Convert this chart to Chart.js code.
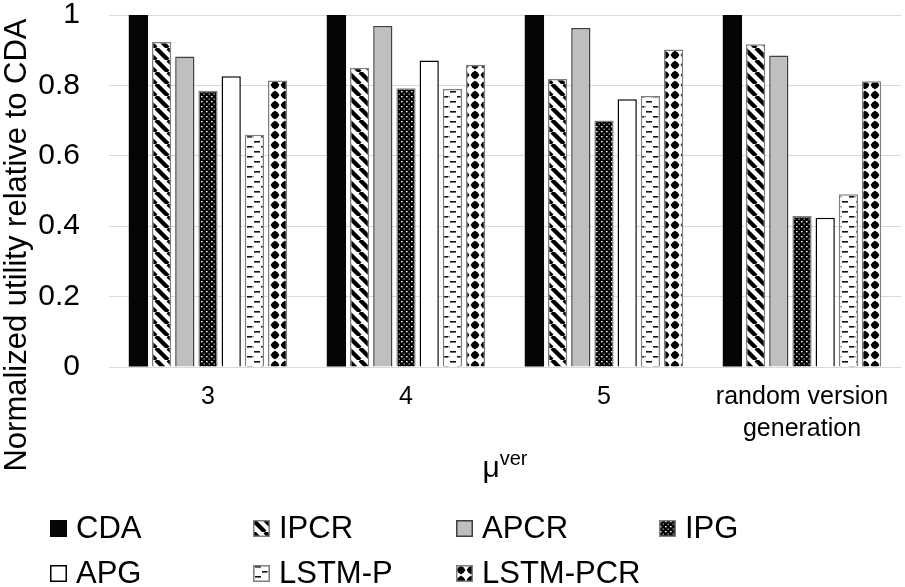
<!DOCTYPE html>
<html>
<head>
<meta charset="utf-8">
<script src="https://cdn.jsdelivr.net/npm/chart.js@4.4.0/dist/chart.umd.min.js"></script>
<style>
body { margin: 0; background: #fff; }
#wrap { position: relative; width: 905px; height: 587px; font-family: "Liberation Sans", Arial, sans-serif; }
#legend { position: absolute; left: 50px; top: 509px; display: grid; grid-template-columns: repeat(4, 203px); row-gap: 7px; }
.item { display: flex; align-items: center; font-size: 31px; height: 38px; color: #000; white-space: nowrap; }
.item canvas { width: 17px; height: 17px; margin-right: 9px; }
</style>
</head>
<body>
<div id="wrap">
  <canvas id="chart" width="905" height="587"></canvas>
  <div id="legend"></div>
</div>
<script>
const categories = ['3', '4', '5', ['random version', 'generation']];
const seriesNames = ['CDA', 'IPCR', 'APCR', 'IPG', 'APG', 'LSTM-P', 'LSTM-PCR'];
const cda = [1, 1, 1, 1];
const ipcr = [0.923, 0.850, 0.818, 0.917];
const apcr = [0.882, 0.969, 0.963, 0.885];
const ipg = [0.785, 0.792, 0.700, 0.429];
const apg = [0.826, 0.871, 0.761, 0.424];
const lstmP = [0.660, 0.790, 0.770, 0.491];
const lstmPcr = [0.814, 0.859, 0.902, 0.812];
const yTicks = [0, 0.2, 0.4, 0.6, 0.8, 1];

const FONT = '"Liberation Sans", Arial, sans-serif';

function makePattern(w, h, draw) {
    const c = document.createElement('canvas');
    c.width = w;
    c.height = h;
    const g = c.getContext('2d');
    draw(g, w, h);
    return g.createPattern(c, 'repeat');
}

// diagonal "\" stripes
const stripes = makePattern(12, 12, function (g, w, h) {
    g.fillStyle = '#fff';
    g.fillRect(0, 0, w, h);
    g.strokeStyle = '#000';
    g.lineWidth = 4.2;
    [-12, 0, 12].forEach(function (o) {
        g.beginPath();
        g.moveTo(o, 0);
        g.lineTo(o + 12, 12);
        g.stroke();
    });
});

// black with small white dots
const dots = makePattern(5, 5, function (g, w, h) {
    g.fillStyle = '#000';
    g.fillRect(0, 0, w, h);
    g.fillStyle = '#fff';
    g.fillRect(1, 1, 1.6, 1.3);
    g.fillStyle = '#aaa';
    g.fillRect(3.5, 3.5, 1.5, 1.2);
});

// staggered short dashes
const dashes = makePattern(14, 10, function (g, w, h) {
    g.fillStyle = '#fff';
    g.fillRect(0, 0, w, h);
    g.fillStyle = '#111';
    g.fillRect(2, 1, 6, 1.6);
    g.fillRect(9, 6, 5, 1.6);
    g.fillStyle = '#999';
    g.fillRect(0, 6, 2, 1.4);
});

// black diamonds
const diamonds = makePattern(10, 10, function (g, w, h) {
    g.fillStyle = '#fff';
    g.fillRect(0, 0, w, h);
    g.fillStyle = '#000';
    g.beginPath();
    g.moveTo(5, 0.5);
    g.lineTo(9.5, 5);
    g.lineTo(5, 9.5);
    g.lineTo(0.5, 5);
    g.closePath();
    g.fill();
    g.beginPath();
    g.arc(5, 5, 3.6, 0, Math.PI * 2);
    g.fill();
});

const seriesValues = [cda, ipcr, apcr, ipg, apg, lstmP, lstmPcr];
const fills = ['#050505', stripes, '#bfbfbf', dots, '#ffffff', dashes, diamonds];
const borders = ['#050505', '#7f7f7f', '#404040', '#7f7f7f', '#000000', '#7f7f7f', '#7f7f7f'];

const datasets = seriesNames.map(function (name, i) {
    return {
        label: name,
        data: seriesValues[i],
        backgroundColor: fills[i],
        borderColor: borders[i],
        borderWidth: i === 0 ? 0 : 1.5,
        categoryPercentage: 0.82,
        barPercentage: 0.83
    };
});

const axisTitles = {
    id: 'axisTitles',
    afterDraw(chart) {
        const ctx = chart.ctx;
        ctx.save();
        ctx.fillStyle = '#000';
        // y title
        ctx.translate(17, 245);
        ctx.rotate(-Math.PI / 2);
        ctx.font = '31px ' + FONT;
        ctx.textAlign = 'center';
        ctx.textBaseline = 'middle';
        ctx.fillText('Normalized utility relative to CDA', 0, 0);
        ctx.restore();

        // x title: mu with superscript "ver"
        ctx.save();
        ctx.fillStyle = '#000';
        const cx = (chart.chartArea.left + chart.chartArea.right) / 2;
        ctx.font = '30px ' + FONT;
        const muW = ctx.measureText('μ').width;
        ctx.font = '20px ' + FONT;
        const supW = ctx.measureText('ver').width;
        const x0 = cx - (muW + supW) / 2;
        ctx.textBaseline = 'alphabetic';
        ctx.textAlign = 'left';
        ctx.font = '30px ' + FONT;
        ctx.fillText('μ', x0, 477);
        ctx.font = '20px ' + FONT;
        ctx.fillText('ver', x0 + muW, 465);
        ctx.restore();
    }
};

const chart = new Chart(document.getElementById('chart'), {
    type: 'bar',
    data: {
        labels: categories,
        datasets: datasets
    },
    options: {
        responsive: false,
        animation: false,
        layout: {
            padding: { left: 38, right: 4, top: 0, bottom: 136 }
        },
        scales: {
            x: {
                grid: { display: false },
                border: { display: false },
                ticks: {
                    color: '#000',
                    font: { family: FONT, size: 25, lineHeight: 1.28 },
                    padding: 6,
                    maxRotation: 0,
                    autoSkip: false
                },
                afterFit: function (scale) {
                    scale.height = 84;
                    scale.paddingLeft = 0;
                    scale.paddingRight = 0;
                }
            },
            y: {
                min: 0,
                max: 1,
                afterBuildTicks: function (scale) {
                    scale.ticks = yTicks.map(function (v) { return { value: v }; });
                },
                afterFit: function (scale) {
                    scale.width = 71;
                    scale.paddingTop = 15;
                    scale.paddingBottom = 15;
                },
                grid: { color: '#d9d9d9', lineWidth: 1, drawTicks: false },
                border: { display: false },
                ticks: {
                    color: '#000',
                    font: { family: FONT, size: 30, lineHeight: 1.0 },
                    padding: 29,
                    callback: function (v) { return String(v); }
                }
            }
        },
        plugins: {
            legend: { display: false },
            tooltip: { enabled: false }
        }
    },
    plugins: [axisTitles]
});

// html legend in fixed columns
const legendEl = document.getElementById('legend');
chart.data.datasets.forEach(function (ds) {
    const item = document.createElement('div');
    item.className = 'item';
    const sw = document.createElement('canvas');
    sw.width = 17;
    sw.height = 17;
    const g = sw.getContext('2d');
    g.fillStyle = ds.backgroundColor;
    g.fillRect(0, 0, 17, 17);
    if (ds.borderWidth) {
        g.strokeStyle = ds.borderColor;
        g.lineWidth = 1.5;
        g.strokeRect(0.75, 0.75, 15.5, 15.5);
    }
    item.appendChild(sw);
    item.appendChild(document.createTextNode(ds.label));
    legendEl.appendChild(item);
});
</script>
</body>
</html>
